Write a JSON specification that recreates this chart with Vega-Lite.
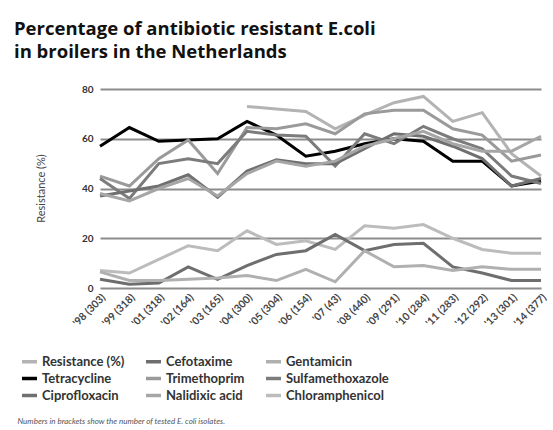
{
  "$schema": "https://vega.github.io/schema/vega-lite/v6.json",
  "width": 441,
  "height": 199,
  "autosize": {"type": "none"},
  "padding": {"left": 100, "top": 89, "right": 12, "bottom": 142},
  "background": "white",
  "config": {"font": "Lato", "view": {"stroke": null}},
  "title": {
    "text": "Percentage of antibiotic resistant E.coli",
    "subtitle": "in broilers in the Netherlands",
    "anchor": "start",
    "frame": "group",
    "dx": -86,
    "font": "Open Sans",
    "fontSize": 18.5,
    "fontWeight": "bold",
    "color": "#111111",
    "subtitleFont": "Open Sans",
    "subtitleFontSize": 18.5,
    "subtitleFontWeight": "bold",
    "subtitleColor": "#111111",
    "subtitlePadding": 4,
    "offset": 23
  },
  "data": {
    "values": [
      {"year": "'98 (303)", "antibiotic": "Tetracycline", "resistance": 57},
      {"year": "'99 (318)", "antibiotic": "Tetracycline", "resistance": 64.5},
      {"year": "'01 (318)", "antibiotic": "Tetracycline", "resistance": 59},
      {"year": "'02 (164)", "antibiotic": "Tetracycline", "resistance": 59.5},
      {"year": "'03 (165)", "antibiotic": "Tetracycline", "resistance": 60},
      {"year": "'04 (300)", "antibiotic": "Tetracycline", "resistance": 67},
      {"year": "'05 (304)", "antibiotic": "Tetracycline", "resistance": 61.5},
      {"year": "'06 (154)", "antibiotic": "Tetracycline", "resistance": 53},
      {"year": "'07 (43)", "antibiotic": "Tetracycline", "resistance": 55},
      {"year": "'08 (440)", "antibiotic": "Tetracycline", "resistance": 58},
      {"year": "'09 (291)", "antibiotic": "Tetracycline", "resistance": 60},
      {"year": "'10 (284)", "antibiotic": "Tetracycline", "resistance": 59},
      {"year": "'11 (283)", "antibiotic": "Tetracycline", "resistance": 51},
      {"year": "'12 (292)", "antibiotic": "Tetracycline", "resistance": 51},
      {"year": "'13 (301)", "antibiotic": "Tetracycline", "resistance": 41},
      {"year": "'14 (377)", "antibiotic": "Tetracycline", "resistance": 43},

      {"year": "'04 (300)", "antibiotic": "Resistance (%)", "resistance": 73},
      {"year": "'05 (304)", "antibiotic": "Resistance (%)", "resistance": 72},
      {"year": "'06 (154)", "antibiotic": "Resistance (%)", "resistance": 71},
      {"year": "'07 (43)", "antibiotic": "Resistance (%)", "resistance": 64},
      {"year": "'08 (440)", "antibiotic": "Resistance (%)", "resistance": 69.5},
      {"year": "'09 (291)", "antibiotic": "Resistance (%)", "resistance": 74.5},
      {"year": "'10 (284)", "antibiotic": "Resistance (%)", "resistance": 77},
      {"year": "'11 (283)", "antibiotic": "Resistance (%)", "resistance": 67},
      {"year": "'12 (292)", "antibiotic": "Resistance (%)", "resistance": 70.5},
      {"year": "'13 (301)", "antibiotic": "Resistance (%)", "resistance": 54},
      {"year": "'14 (377)", "antibiotic": "Resistance (%)", "resistance": 45},

      {"year": "'98 (303)", "antibiotic": "Trimethoprim", "resistance": 45},
      {"year": "'99 (318)", "antibiotic": "Trimethoprim", "resistance": 41},
      {"year": "'01 (318)", "antibiotic": "Trimethoprim", "resistance": 52},
      {"year": "'02 (164)", "antibiotic": "Trimethoprim", "resistance": 59.5},
      {"year": "'03 (165)", "antibiotic": "Trimethoprim", "resistance": 46},
      {"year": "'04 (300)", "antibiotic": "Trimethoprim", "resistance": 64.5},
      {"year": "'05 (304)", "antibiotic": "Trimethoprim", "resistance": 64},
      {"year": "'06 (154)", "antibiotic": "Trimethoprim", "resistance": 66},
      {"year": "'07 (43)", "antibiotic": "Trimethoprim", "resistance": 62},
      {"year": "'08 (440)", "antibiotic": "Trimethoprim", "resistance": 70},
      {"year": "'09 (291)", "antibiotic": "Trimethoprim", "resistance": 71.5},
      {"year": "'10 (284)", "antibiotic": "Trimethoprim", "resistance": 71.5},
      {"year": "'11 (283)", "antibiotic": "Trimethoprim", "resistance": 64},
      {"year": "'12 (292)", "antibiotic": "Trimethoprim", "resistance": 61.5},
      {"year": "'13 (301)", "antibiotic": "Trimethoprim", "resistance": 51},
      {"year": "'14 (377)", "antibiotic": "Trimethoprim", "resistance": 53.5},

      {"year": "'98 (303)", "antibiotic": "Sulfamethoxazole", "resistance": 44},
      {"year": "'99 (318)", "antibiotic": "Sulfamethoxazole", "resistance": 36},
      {"year": "'01 (318)", "antibiotic": "Sulfamethoxazole", "resistance": 50},
      {"year": "'02 (164)", "antibiotic": "Sulfamethoxazole", "resistance": 52},
      {"year": "'03 (165)", "antibiotic": "Sulfamethoxazole", "resistance": 50},
      {"year": "'04 (300)", "antibiotic": "Sulfamethoxazole", "resistance": 63},
      {"year": "'05 (304)", "antibiotic": "Sulfamethoxazole", "resistance": 61.5},
      {"year": "'06 (154)", "antibiotic": "Sulfamethoxazole", "resistance": 61},
      {"year": "'07 (43)", "antibiotic": "Sulfamethoxazole", "resistance": 49},
      {"year": "'08 (440)", "antibiotic": "Sulfamethoxazole", "resistance": 62},
      {"year": "'09 (291)", "antibiotic": "Sulfamethoxazole", "resistance": 58},
      {"year": "'10 (284)", "antibiotic": "Sulfamethoxazole", "resistance": 65},
      {"year": "'11 (283)", "antibiotic": "Sulfamethoxazole", "resistance": 60},
      {"year": "'12 (292)", "antibiotic": "Sulfamethoxazole", "resistance": 56},
      {"year": "'13 (301)", "antibiotic": "Sulfamethoxazole", "resistance": 45},
      {"year": "'14 (377)", "antibiotic": "Sulfamethoxazole", "resistance": 42},

      {"year": "'98 (303)", "antibiotic": "Ciprofloxacin", "resistance": 37},
      {"year": "'99 (318)", "antibiotic": "Ciprofloxacin", "resistance": 39},
      {"year": "'01 (318)", "antibiotic": "Ciprofloxacin", "resistance": 41},
      {"year": "'02 (164)", "antibiotic": "Ciprofloxacin", "resistance": 45.5},
      {"year": "'03 (165)", "antibiotic": "Ciprofloxacin", "resistance": 36.5},
      {"year": "'04 (300)", "antibiotic": "Ciprofloxacin", "resistance": 47},
      {"year": "'05 (304)", "antibiotic": "Ciprofloxacin", "resistance": 51.5},
      {"year": "'06 (154)", "antibiotic": "Ciprofloxacin", "resistance": 50},
      {"year": "'07 (43)", "antibiotic": "Ciprofloxacin", "resistance": 50},
      {"year": "'08 (440)", "antibiotic": "Ciprofloxacin", "resistance": 56},
      {"year": "'09 (291)", "antibiotic": "Ciprofloxacin", "resistance": 62},
      {"year": "'10 (284)", "antibiotic": "Ciprofloxacin", "resistance": 61},
      {"year": "'11 (283)", "antibiotic": "Ciprofloxacin", "resistance": 57},
      {"year": "'12 (292)", "antibiotic": "Ciprofloxacin", "resistance": 52},
      {"year": "'13 (301)", "antibiotic": "Ciprofloxacin", "resistance": 41},
      {"year": "'14 (377)", "antibiotic": "Ciprofloxacin", "resistance": 44},

      {"year": "'98 (303)", "antibiotic": "Nalidixic acid", "resistance": 38},
      {"year": "'99 (318)", "antibiotic": "Nalidixic acid", "resistance": 35},
      {"year": "'01 (318)", "antibiotic": "Nalidixic acid", "resistance": 40},
      {"year": "'02 (164)", "antibiotic": "Nalidixic acid", "resistance": 44},
      {"year": "'03 (165)", "antibiotic": "Nalidixic acid", "resistance": 37},
      {"year": "'04 (300)", "antibiotic": "Nalidixic acid", "resistance": 46},
      {"year": "'05 (304)", "antibiotic": "Nalidixic acid", "resistance": 51},
      {"year": "'06 (154)", "antibiotic": "Nalidixic acid", "resistance": 49},
      {"year": "'07 (43)", "antibiotic": "Nalidixic acid", "resistance": 51},
      {"year": "'08 (440)", "antibiotic": "Nalidixic acid", "resistance": 57},
      {"year": "'09 (291)", "antibiotic": "Nalidixic acid", "resistance": 60},
      {"year": "'10 (284)", "antibiotic": "Nalidixic acid", "resistance": 63},
      {"year": "'11 (283)", "antibiotic": "Nalidixic acid", "resistance": 58},
      {"year": "'12 (292)", "antibiotic": "Nalidixic acid", "resistance": 55},
      {"year": "'13 (301)", "antibiotic": "Nalidixic acid", "resistance": 55},
      {"year": "'14 (377)", "antibiotic": "Nalidixic acid", "resistance": 61},

      {"year": "'98 (303)", "antibiotic": "Chloramphenicol", "resistance": 7},
      {"year": "'99 (318)", "antibiotic": "Chloramphenicol", "resistance": 6},
      {"year": "'01 (318)", "antibiotic": "Chloramphenicol", "resistance": 11.5},
      {"year": "'02 (164)", "antibiotic": "Chloramphenicol", "resistance": 17},
      {"year": "'03 (165)", "antibiotic": "Chloramphenicol", "resistance": 15},
      {"year": "'04 (300)", "antibiotic": "Chloramphenicol", "resistance": 23},
      {"year": "'05 (304)", "antibiotic": "Chloramphenicol", "resistance": 17.5},
      {"year": "'06 (154)", "antibiotic": "Chloramphenicol", "resistance": 19},
      {"year": "'07 (43)", "antibiotic": "Chloramphenicol", "resistance": 15.5},
      {"year": "'08 (440)", "antibiotic": "Chloramphenicol", "resistance": 25},
      {"year": "'09 (291)", "antibiotic": "Chloramphenicol", "resistance": 24},
      {"year": "'10 (284)", "antibiotic": "Chloramphenicol", "resistance": 25.5},
      {"year": "'11 (283)", "antibiotic": "Chloramphenicol", "resistance": 20},
      {"year": "'12 (292)", "antibiotic": "Chloramphenicol", "resistance": 15.5},
      {"year": "'13 (301)", "antibiotic": "Chloramphenicol", "resistance": 14},
      {"year": "'14 (377)", "antibiotic": "Chloramphenicol", "resistance": 14},

      {"year": "'98 (303)", "antibiotic": "Cefotaxime", "resistance": 3.5},
      {"year": "'99 (318)", "antibiotic": "Cefotaxime", "resistance": 1.5},
      {"year": "'01 (318)", "antibiotic": "Cefotaxime", "resistance": 2},
      {"year": "'02 (164)", "antibiotic": "Cefotaxime", "resistance": 8.5},
      {"year": "'03 (165)", "antibiotic": "Cefotaxime", "resistance": 3.5},
      {"year": "'04 (300)", "antibiotic": "Cefotaxime", "resistance": 9},
      {"year": "'05 (304)", "antibiotic": "Cefotaxime", "resistance": 13.5},
      {"year": "'06 (154)", "antibiotic": "Cefotaxime", "resistance": 15},
      {"year": "'07 (43)", "antibiotic": "Cefotaxime", "resistance": 21.5},
      {"year": "'08 (440)", "antibiotic": "Cefotaxime", "resistance": 15},
      {"year": "'09 (291)", "antibiotic": "Cefotaxime", "resistance": 17.5},
      {"year": "'10 (284)", "antibiotic": "Cefotaxime", "resistance": 18},
      {"year": "'11 (283)", "antibiotic": "Cefotaxime", "resistance": 8.5},
      {"year": "'12 (292)", "antibiotic": "Cefotaxime", "resistance": 6},
      {"year": "'13 (301)", "antibiotic": "Cefotaxime", "resistance": 3},
      {"year": "'14 (377)", "antibiotic": "Cefotaxime", "resistance": 3},

      {"year": "'98 (303)", "antibiotic": "Gentamicin", "resistance": 6.5},
      {"year": "'99 (318)", "antibiotic": "Gentamicin", "resistance": 3},
      {"year": "'01 (318)", "antibiotic": "Gentamicin", "resistance": 3},
      {"year": "'02 (164)", "antibiotic": "Gentamicin", "resistance": 3.5},
      {"year": "'03 (165)", "antibiotic": "Gentamicin", "resistance": 4},
      {"year": "'04 (300)", "antibiotic": "Gentamicin", "resistance": 5},
      {"year": "'05 (304)", "antibiotic": "Gentamicin", "resistance": 3},
      {"year": "'06 (154)", "antibiotic": "Gentamicin", "resistance": 7.5},
      {"year": "'07 (43)", "antibiotic": "Gentamicin", "resistance": 2.5},
      {"year": "'08 (440)", "antibiotic": "Gentamicin", "resistance": 15},
      {"year": "'09 (291)", "antibiotic": "Gentamicin", "resistance": 8.5},
      {"year": "'10 (284)", "antibiotic": "Gentamicin", "resistance": 9},
      {"year": "'11 (283)", "antibiotic": "Gentamicin", "resistance": 7},
      {"year": "'12 (292)", "antibiotic": "Gentamicin", "resistance": 8.5},
      {"year": "'13 (301)", "antibiotic": "Gentamicin", "resistance": 7.5},
      {"year": "'14 (377)", "antibiotic": "Gentamicin", "resistance": 7.5}
    ]
  },
  "mark": {"type": "line", "strokeWidth": 3, "strokeJoin": "miter"},
  "encoding": {
    "x": {
      "field": "year",
      "type": "ordinal",
      "scale": {
        "type": "point",
        "padding": 0,
        "domain": ["'98 (303)", "'99 (318)", "'01 (318)", "'02 (164)", "'03 (165)", "'04 (300)", "'05 (304)", "'06 (154)", "'07 (43)", "'08 (440)", "'09 (291)", "'10 (284)", "'11 (283)", "'12 (292)", "'13 (301)", "'14 (377)"]
      },
      "axis": {
        "title": "Numbers in brackets show the number of tested E. coli isolates.",
        "titleFontStyle": "italic",
        "titleFontWeight": "normal",
        "titleFontSize": 8,
        "titleColor": "#555555",
        "titleAnchor": "start",
        "titleAlign": "left",
        "titleBaseline": "alphabetic",
        "titleX": -83,
        "titleY": 135,
        "labelAngle": -45,
        "labelFontSize": 10.5,
        "labelFontWeight": "bold",
        "labelColor": "#444444",
        "labelPadding": 4,
        "ticks": false,
        "domain": false,
        "grid": false
      }
    },
    "y": {
      "field": "resistance",
      "type": "quantitative",
      "scale": {"domain": [0, 80]},
      "axis": {
        "values": [0, 20, 40, 60, 80],
        "grid": true,
        "gridColor": "#8c8c8c",
        "gridWidth": 2,
        "ticks": false,
        "domain": false,
        "labelFontSize": 10,
        "labelFontWeight": "bold",
        "labelColor": "#333333",
        "labelPadding": 7,
        "title": "Resistance (%)",
        "titleFontSize": 11,
        "titleFontWeight": "normal",
        "titleColor": "#444444",
        "titleX": -59,
        "titleY": 99,
        "titleAlign": "center",
        "titleBaseline": "middle"
      }
    },
    "color": {
      "field": "antibiotic",
      "type": "nominal",
      "scale": {
        "domain": ["Resistance (%)", "Tetracycline", "Ciprofloxacin", "Cefotaxime", "Trimethoprim", "Nalidixic acid", "Gentamicin", "Sulfamethoxazole", "Chloramphenicol"],
        "range": ["#b3b3b3", "#000000", "#707070", "#6e6e6e", "#9a9a9a", "#a6a6a6", "#b0b0b0", "#7c7c7c", "#bcbcbc"]
      },
      "legend": {
        "orient": "none",
        "legendX": -80,
        "legendY": 263,
        "columns": 3,
        "title": null,
        "symbolType": "stroke",
        "symbolStrokeWidth": 3.5,
        "symbolSize": 225,
        "labelFontSize": 13,
        "labelFontWeight": "bold",
        "labelColor": "#333333",
        "labelOffset": 3,
        "columnPadding": 14,
        "rowPadding": -4
      }
    }
  }
}
